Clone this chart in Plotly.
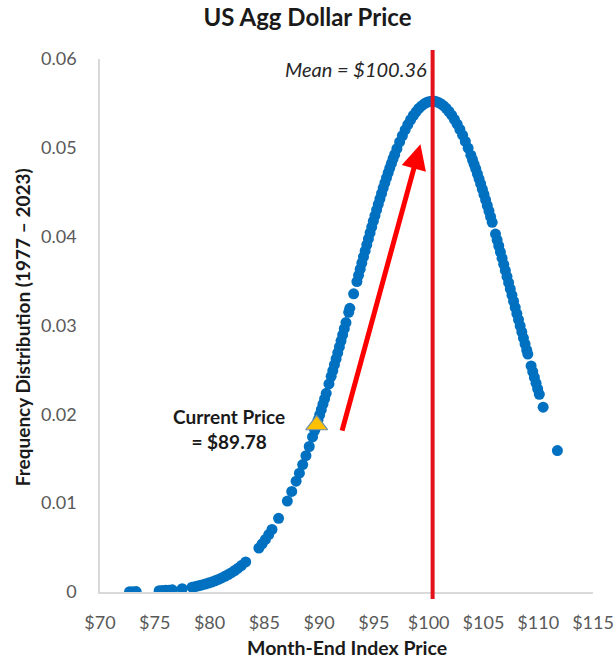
import plotly.graph_objects as go

# Month-end index prices (x) and their frequency-distribution values (y)
price = [72.7, 73.0, 73.3, 75.4, 75.7, 76.0, 76.3, 76.6, 77.5, 78.4, 78.7, 79.0, 79.3, 79.6, 79.9,
         80.2, 80.5, 80.8, 81.1, 81.4, 81.7, 82.0, 82.3, 82.6, 82.9, 83.3, 84.5, 84.8, 85.1, 85.4,
         85.7, 86.3, 87.1, 87.5, 87.9, 88.2, 88.5, 88.8, 89.1, 89.4, 89.6, 89.75, 89.9, 90.05, 90.2,
         90.35, 90.5, 90.65, 90.9, 91.1, 91.25, 91.4, 91.55, 91.7, 91.85, 92.0, 92.15, 92.3, 92.45,
         92.7, 92.8, 93.15, 93.45, 93.6, 93.75, 93.9, 94.05, 94.2, 94.35, 94.5, 94.65, 94.8, 94.95,
         95.1, 95.25, 95.4, 95.55, 95.7, 95.85, 96.0, 96.15, 96.3, 96.45, 96.6, 96.75, 96.9, 97.1,
         97.35, 97.6, 97.85, 98.1, 98.35, 98.6, 98.85, 99.1, 99.35, 99.6, 99.85, 100.1, 100.35,
         100.6, 100.85, 101.1, 101.35, 101.6, 101.85, 102.1, 102.35, 102.6, 102.85, 103.1, 103.35,
         103.6, 103.85, 104.0, 104.15, 104.3, 104.45, 104.6, 104.75, 104.9, 105.05, 105.2, 105.35,
         105.5, 105.65, 105.8, 106.1, 106.25, 106.4, 106.55, 106.7, 106.85, 107.0, 107.15, 107.3,
         107.45, 107.6, 107.75, 107.9, 108.05, 108.2, 108.35, 108.5, 108.65, 108.8, 108.95, 109.05,
         109.35, 109.5, 109.65, 109.8, 109.95, 110.1, 110.45, 111.75]

freq = [0.00004, 0.00004, 0.00005, 0.00014, 0.00016, 0.00019, 0.00021, 0.00025, 0.00037, 0.00054,
        0.00061, 0.00070, 0.00079, 0.00089, 0.00100, 0.00112, 0.00126, 0.00141, 0.00158, 0.00176,
        0.00196, 0.00218, 0.00242, 0.00268, 0.00297, 0.00339, 0.00495, 0.00542, 0.00592, 0.00646,
        0.00704, 0.00830, 0.01023, 0.01132, 0.01247, 0.01338, 0.01434, 0.01534, 0.01638, 0.01746,
        0.01820, 0.01877, 0.01935, 0.01993, 0.02053, 0.02114, 0.02175, 0.02237, 0.02342, 0.02428,
        0.02493, 0.02559, 0.02625, 0.02692, 0.02759, 0.02827, 0.02895, 0.02964, 0.03033, 0.03148,
        0.03194, 0.03357, 0.03495, 0.03565, 0.03634, 0.03703, 0.03772, 0.03840, 0.03908, 0.03975,
        0.04042, 0.04108, 0.04174, 0.04238, 0.04302, 0.04364, 0.04426, 0.04487, 0.04547, 0.04605,
        0.04662, 0.04718, 0.04772, 0.04825, 0.04877, 0.04926, 0.04991, 0.05066, 0.05136, 0.05202,
        0.05262, 0.05316, 0.05364, 0.05406, 0.05443, 0.05472, 0.05496, 0.05512, 0.05522, 0.05526,
        0.05523, 0.05513, 0.05497, 0.05474, 0.05445, 0.05409, 0.05368, 0.05320, 0.05266, 0.05207,
        0.05142, 0.05072, 0.04997, 0.04917, 0.04866, 0.04815, 0.04762, 0.04707, 0.04651, 0.04594,
        0.04535, 0.04475, 0.04414, 0.04352, 0.04289, 0.04225, 0.04161, 0.04029, 0.03962, 0.03895,
        0.03827, 0.03758, 0.03689, 0.03620, 0.03551, 0.03482, 0.03412, 0.03342, 0.03273, 0.03203,
        0.03134, 0.03065, 0.02996, 0.02927, 0.02859, 0.02791, 0.02723, 0.02679, 0.02545, 0.02480,
        0.02415, 0.02351, 0.02287, 0.02225, 0.02081, 0.01592]

mean_price = 100.36
current_price = 89.78
current_freq = 0.0188
arrow_tail = (92.06, 0.0180)
arrow_head = (99.25, 0.0504)

x_ticks = [70, 75, 80, 85, 90, 95, 100, 105, 110, 115]
x_tick_text = ["$70", "$75", "$80", "$85", "$90", "$95", "$100", "$105", "$110", "$115"]
y_ticks = [0, 0.01, 0.02, 0.03, 0.04, 0.05, 0.06]
y_tick_text = ["0", "0.01", "0.02", "0.03", "0.04", "0.05", "0.06"]

FONT = "Lato"
BLUE = "#0070C0"
RED = "#E3121B"
DARK = "#1a1a1a"

fig = go.Figure()
fig.add_trace(go.Scatter(
    x=price, y=freq, mode="markers",
    marker=dict(color=BLUE, size=11, line=dict(width=0)),
    hoverinfo="x+y", showlegend=False,
))
fig.add_trace(go.Scatter(
    x=[current_price], y=[current_freq], mode="markers",
    marker=dict(symbol="triangle-up", color="#FFC000", size=19,
                line=dict(color="#6F8FA8", width=1.2)),
    showlegend=False,
))

fig.add_shape(type="line", xref="x", yref="paper", x0=mean_price, x1=mean_price,
              y0=-0.013, y1=1.017, line=dict(color=RED, width=4), layer="above")

fig.add_annotation(x=arrow_head[0], y=arrow_head[1], ax=arrow_tail[0], ay=arrow_tail[1],
                   xref="x", yref="y", axref="x", ayref="y", text="", showarrow=True,
                   arrowhead=2, arrowsize=1.0, arrowwidth=5, arrowcolor="#FF0000")

fig.add_annotation(x=mean_price, y=0.0589, xref="x", yref="y", text="<i>Mean = $100.36</i>",
                   showarrow=False, xanchor="right", xshift=-4,
                   font=dict(family=FONT, size=20, color="#262626"))

fig.add_annotation(x=81.8, y=0.0184, xref="x", yref="y",
                   text="<b>Current Price</b><br><b>= $89.78</b>",
                   showarrow=False, align="center",
                   font=dict(family=FONT, size=19, color=DARK))

# axis titles
fig.add_annotation(x=0.5, y=-0.104, xref="paper", yref="paper",
                   text="<b>Month-End Index Price</b>", showarrow=False,
                   xanchor="center", yanchor="middle",
                   font=dict(family=FONT, size=19.5, color=DARK))
fig.add_annotation(x=-0.158, y=0.497, xref="paper", yref="paper",
                   text="<b>Frequency Distribution (1977 \u2013 2023)</b>", showarrow=False,
                   textangle=-90, xanchor="center", yanchor="middle",
                   font=dict(family=FONT, size=19, color=DARK))

fig.update_layout(
    width=615, height=660,
    margin=dict(l=100, r=22, t=59, b=67.5, autoexpand=False),
    paper_bgcolor="white", plot_bgcolor="white",
    title=dict(text="<b>US Agg Dollar Price</b>", x=0.5, xanchor="center", y=0.973,
               yanchor="middle", font=dict(family=FONT, size=24, color=DARK)),
    font=dict(family=FONT, color="#595959"),
    xaxis=dict(range=[70, 115], tickvals=x_ticks, ticktext=x_tick_text, showgrid=False,
               zeroline=False, showline=True, linecolor="#D9D9D9", linewidth=1.5,
               automargin=False, ticks="", ticklabelstandoff=14,
               tickfont=dict(family=FONT, size=18, color="#595959")),
    yaxis=dict(range=[0, 0.06], tickvals=y_ticks, ticktext=y_tick_text, showgrid=False,
               zeroline=False, showline=True, linecolor="#D9D9D9", linewidth=1.5,
               automargin=False, ticks="", ticklabelstandoff=18,
               tickfont=dict(family=FONT, size=18, color="#595959")),
)

fig.write_html("out.html", config={"displayModeBar": False},
               post_script="document.body.style.margin='0px';document.body.style.overflow='hidden';")
